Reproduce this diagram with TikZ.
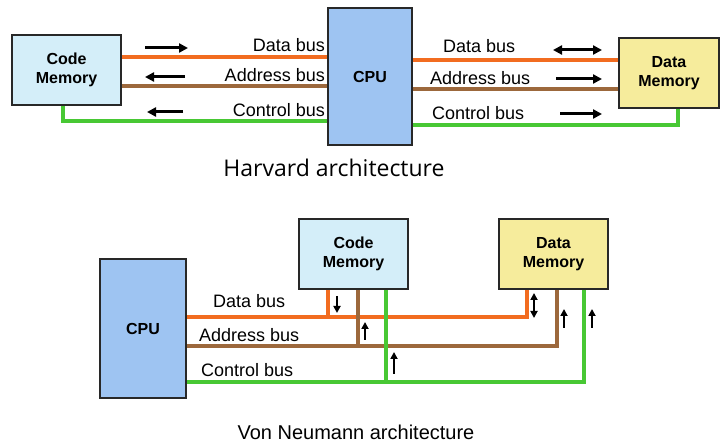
\documentclass[tikz,border=0pt]{standalone}
\usepackage{fontspec}
\setmainfont{Liberation Sans}
\newfontfamily\titlefont{Open Sans}
\usetikzlibrary{arrows.meta,backgrounds}
\definecolor{busorange}{RGB}{242,108,32}
\definecolor{busbrown}{RGB}{156,104,60}
\definecolor{busgreen}{RGB}{72,200,52}
\definecolor{codefill}{RGB}{212,238,249}
\definecolor{cpufill}{RGB}{158,196,242}
\definecolor{datafill}{RGB}{246,236,156}
\definecolor{boxline}{RGB}{40,40,40}
\tikzset{
  unitbox/.style={draw=boxline, line width=1.3pt, align=center, inner sep=0pt,
    font=\fontsize{16}{19}\selectfont\bfseries},
  dbus/.style={busorange, line width=4pt, line join=miter},
  abus/.style={busbrown, line width=4pt, line join=miter},
  cbus/.style={busgreen, line width=4pt, line join=miter},
  lab/.style={font=\fontsize{18}{20}\selectfont, inner sep=0pt},
  bigarrow/.style={line width=3pt, -{Triangle[length=9pt,width=9pt]}},
  bigdarrow/.style={line width=3pt, {Triangle[length=9pt,width=9pt]}-{Triangle[length=9pt,width=9pt]}},
  smallarrow/.style={line width=2pt, -{Triangle[length=7pt,width=7pt]}},
  smalldarrow/.style={line width=2pt, {Triangle[length=7pt,width=7pt]}-{Triangle[length=7pt,width=7pt]}},
}
\begin{document}
\begin{tikzpicture}[x=1pt,y=-1pt]
\useasboundingbox (0,0) rectangle (721,446);

% ---------- Harvard ----------
\node[unitbox, fill=codefill, minimum width=109pt, minimum height=70pt] (cm1) at (66.5,70) {Code\\Memory};
\node[unitbox, fill=cpufill, minimum width=84pt, minimum height=137pt] (cpu1) at (370,76.5) {CPU};
\node[unitbox, fill=datafill, minimum width=100pt, minimum height=70pt] (dm1) at (669,73) {Data\\Memory};

\begin{scope}[on background layer]
\fill[white] (0,0) rectangle (721,446);
\draw[dbus] (cm1.east |- 0,57) -- (cpu1.west |- 0,57);
\draw[abus] (cm1.east |- 0,86) -- (cpu1.west |- 0,86);
\draw[cbus] (63,0 |- cm1.south) -- (63,121) -- (cpu1.west |- 0,121);
\draw[dbus] (cpu1.east |- 0,60) -- (dm1.west |- 0,60);
\draw[abus] (cpu1.east |- 0,89) -- (dm1.west |- 0,89);
\draw[cbus] (cpu1.east |- 0,125) -- (678,125) -- (678,0 |- dm1.south);
\end{scope}

\node[lab, anchor=base east] (l1) at (325,52) {Data bus};
\node[lab, anchor=base east] (l2) at (325,82) {Address bus};
\node[lab, anchor=base east] (l3) at (325,117) {Control bus};
\node[lab, anchor=base west] (l4) at (443,53) {Data bus};
\node[lab, anchor=base west] (l5) at (430,85) {Address bus};
\node[lab, anchor=base west] (l6) at (432,120) {Control bus};

\draw[bigarrow] (145,48) -- (188,48);
\draw[bigarrow] (185,77) -- (145,77);
\draw[bigarrow] (183,112) -- (147,112);
\draw[bigdarrow] (553,50) -- (602,50);
\draw[bigarrow] (556,79) -- (602,79);
\draw[bigarrow] (560,114) -- (602,114);

\node[font=\titlefont\fontsize{23}{26}\selectfont, anchor=base, inner sep=0pt] (t1) at (334,177) {Harvard architecture};

% ---------- Von Neumann ----------
\node[unitbox, fill=cpufill, minimum width=86pt, minimum height=139pt] (cpu2) at (143,328.5) {CPU};
\node[unitbox, fill=codefill, minimum width=109pt, minimum height=70pt] (cm2) at (353.5,254) {Code\\Memory};
\node[unitbox, fill=datafill, minimum width=109pt, minimum height=70pt] (dm2) at (553.5,254) {Data\\Memory};

\begin{scope}[on background layer]
\draw[dbus] (cpu2.east |- 0,317) -- (527,317) -- (527,0 |- dm2.south);
\draw[dbus] (328,0 |- cm2.south) -- (328,317);
\draw[abus] (cpu2.east |- 0,346) -- (557,346) -- (557,0 |- dm2.south);
\draw[abus] (358,0 |- cm2.south) -- (358,346);
\draw[cbus] (cpu2.east |- 0,382) -- (584,382) -- (584,0 |- dm2.south);
\draw[cbus] (386,0 |- cm2.south) -- (386,382);
\end{scope}

\node[lab, anchor=base west] (l7) at (213,308) {Data bus};
\node[lab, anchor=base west] (l8) at (199,342) {Address bus};
\node[lab, anchor=base west] (l9) at (201,377) {Control bus};

\draw[smallarrow] (337,296) -- (337,313);
\draw[smallarrow] (365,340) -- (365,322);
\draw[smallarrow] (394,374) -- (394,352);
\draw[smalldarrow] (534,293) -- (534,318);
\draw[smallarrow] (564,328) -- (564,309);
\draw[smallarrow] (592,328) -- (592,309);

\node[font=\fontsize{20}{24}\selectfont, anchor=base, inner sep=0pt] (t2) at (356,440) {Von Neumann architecture};
\end{tikzpicture}
\end{document}
